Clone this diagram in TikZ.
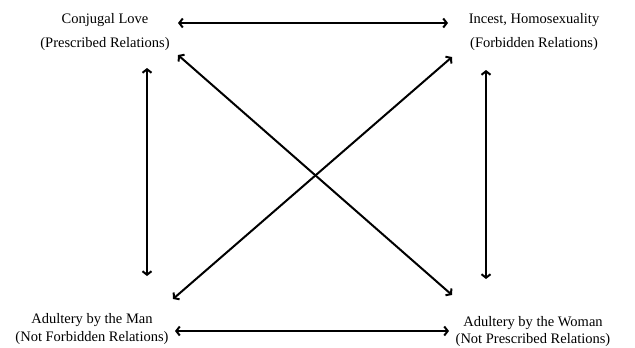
\documentclass[tikz,border=0pt]{standalone}
\usepackage{fontspec}
\setmainfont{Liberation Serif}
\usetikzlibrary{arrows.meta}
\begin{document}
\begin{tikzpicture}[x=1pt,y=-1pt,
  lbl/.style={align=center,inner sep=2pt,font=\fontsize{14.5}{17}\selectfont},
  arr/.style={{Straight Barb[length=3.5pt,width=9pt]}-{Straight Barb[length=3.5pt,width=9pt]},line width=2pt}]
\useasboundingbox (0,0) rectangle (635,348);
\node[lbl] (cl) at (105,32) {Conjugal Love\\[7pt](Prescribed Relations)};
\node[lbl] (in) at (534,32) {Incest, Homosexuality\\[7pt](Forbidden Relations)};
\node[lbl] (ma) at (92,329) {Adultery by the Man\\[1pt](Not Forbidden Relations)};
\node[lbl] (wo) at (533,332) {Adultery by the Woman\\(Not Prescribed Relations)};
\draw[arr] ([shift={(73,-9)}]cl.center) -- ([shift={(-86,-9)}]in.center);
\draw[arr] ([shift={(83,2)}]ma.center) -- ([shift={(-84,-1)}]wo.center);
\draw[arr] ([shift={(42,36)}]cl.center) -- ([shift={(55,-53)}]ma.center);
\draw[arr] ([shift={(-48,38)}]in.center) -- ([shift={(-47,-53)}]wo.center);
\draw[arr] ([shift={(73,23)}]cl.center) -- ([shift={(-81,-37)}]wo.center);
\draw[arr] ([shift={(81,-30)}]ma.center) -- ([shift={(-82,25)}]in.center);
\end{tikzpicture}
\end{document}
